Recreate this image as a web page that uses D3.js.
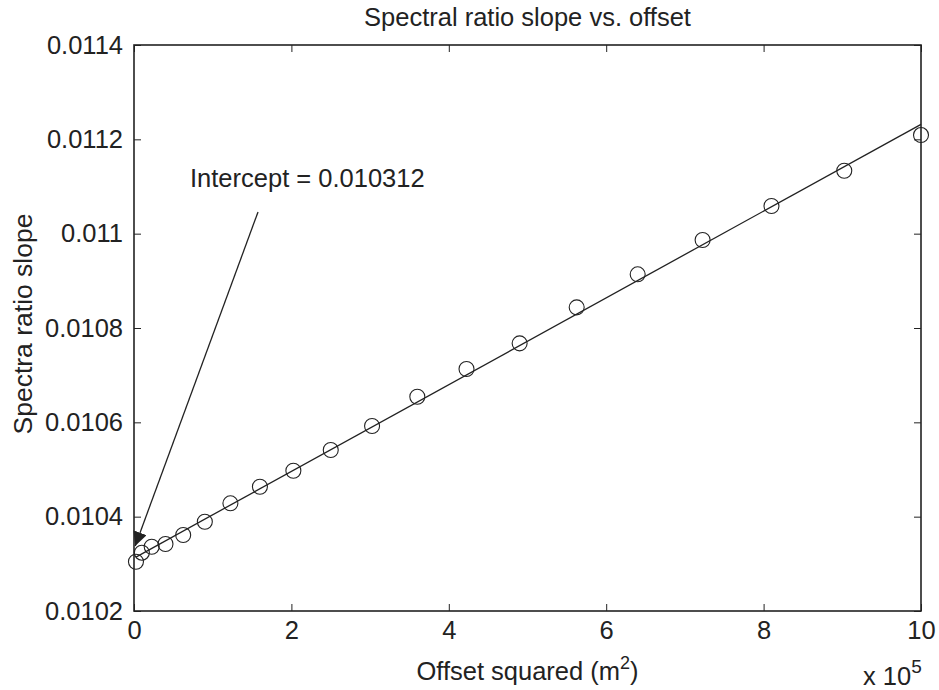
<!DOCTYPE html>
<html>
<head>
<meta charset="utf-8">
<script src="https://cdn.jsdelivr.net/npm/d3@7"></script>
<style>
  body { margin: 0; background: #fff; }
  text { font-family: "Liberation Sans", Arial, sans-serif; fill: #222; }
</style>
</head>
<body>
<svg id="chart" width="939" height="690"></svg>
<script>
// offset squared (m^2) and measured spectral ratio slope
const offsetSq = [2500, 10000, 22500, 40000, 62500, 90000, 122500, 160000, 202500, 250000,
  302500, 360000, 422500, 490000, 562500, 640000, 722500, 810000, 902500, 1000000];
const slopes = [0.0103045, 0.0103236, 0.0103363, 0.0103420, 0.0103611, 0.0103893, 0.0104283,
  0.0104635, 0.0104974, 0.0105413, 0.0105922, 0.0106543, 0.0107130, 0.0107675, 0.0108438,
  0.0109138, 0.0109865, 0.0110586, 0.0111334, 0.0112091];

// least squares line shown on the plot
const intercept = 0.010312;
const fitSlope = 9.198e-10;

const xTicks = [0, 200000, 400000, 600000, 800000, 1000000];
const yTicks = [0.0102, 0.0104, 0.0106, 0.0108, 0.011, 0.0112, 0.0114];

// arrow from label down to the intercept, data coords
const arrowFrom = [157600, 0.011046];
const arrowTo = [1500, 0.010338];

const svg = d3.select('#chart');
const m = { left: 134, right: 921, top: 45, bottom: 611 };
const ink = '#222';
const fs = '25.5px';

const x = d3.scaleLinear().domain([0, 1000000]).range([m.left, m.right]);
const y = d3.scaleLinear().domain([0.0102, 0.0114]).range([m.bottom, m.top]);

const tickLen = 7;

const styleAxis = (g) => {
  g.select('.domain').remove();
  g.selectAll('.tick line').attr('stroke', ink).attr('stroke-width', 1);
  g.selectAll('.tick text').style('font-size', fs).attr('fill', ink);
};

svg.append('g')
  .attr('transform', `translate(0,${m.bottom})`)
  .call(d3.axisBottom(x).tickValues(xTicks).tickSize(-tickLen).tickPadding(10)
    .tickFormat(d => d / 100000))
  .call(styleAxis);

svg.append('g')
  .attr('transform', `translate(0,${m.top})`)
  .call(d3.axisTop(x).tickValues(xTicks).tickSize(-tickLen).tickFormat(''))
  .call(styleAxis);

svg.append('g')
  .attr('transform', `translate(${m.left},0)`)
  .call(d3.axisLeft(y).tickValues(yTicks).tickSize(-tickLen).tickPadding(11)
    .tickFormat(d => String(d)))
  .call(styleAxis);

svg.append('g')
  .attr('transform', `translate(${m.right},0)`)
  .call(d3.axisRight(y).tickValues(yTicks).tickSize(-tickLen).tickFormat(''))
  .call(styleAxis);

// axes box
svg.append('rect')
  .attr('x', m.left).attr('y', m.top)
  .attr('width', m.right - m.left).attr('height', m.bottom - m.top)
  .attr('fill', 'none').attr('stroke', ink).attr('stroke-width', 1.6);

// fit line
const line = d3.line().x(d => x(d)).y(d => y(intercept + fitSlope * d));
svg.append('path')
  .datum([offsetSq[0], offsetSq[offsetSq.length - 1]])
  .attr('d', line)
  .attr('fill', 'none').attr('stroke', ink).attr('stroke-width', 1.3);

// data circles
svg.append('g').selectAll('circle')
  .data(offsetSq)
  .join('circle')
  .attr('cx', d => x(d))
  .attr('cy', (d, i) => y(slopes[i]))
  .attr('r', 7.5)
  .attr('fill', 'none').attr('stroke', ink).attr('stroke-width', 1.1);

// arrow
svg.append('defs').append('marker')
  .attr('id', 'head')
  .attr('viewBox', '0 0 10 10')
  .attr('refX', 10).attr('refY', 5)
  .attr('markerWidth', 14).attr('markerHeight', 14)
  .attr('markerUnits', 'userSpaceOnUse')
  .attr('orient', 'auto')
  .append('path').attr('d', 'M0,0L10,5L0,10Z').attr('fill', ink);

svg.append('line')
  .attr('x1', x(arrowFrom[0])).attr('y1', y(arrowFrom[1]))
  .attr('x2', x(arrowTo[0])).attr('y2', y(arrowTo[1]))
  .attr('stroke', ink).attr('stroke-width', 1.3)
  .attr('marker-end', 'url(#head)');

svg.append('text')
  .attr('x', 190).attr('y', 187)
  .style('font-size', fs)
  .text('Intercept = ' + intercept);

// title
svg.append('text')
  .attr('x', (m.left + m.right) / 2).attr('y', 26)
  .attr('text-anchor', 'middle')
  .style('font-size', fs)
  .text('Spectral ratio slope vs. offset');

// x label
const xl = svg.append('text')
  .attr('x', (m.left + m.right) / 2).attr('y', 680)
  .attr('text-anchor', 'middle')
  .style('font-size', fs);
xl.append('tspan').text('Offset squared (m');
xl.append('tspan').attr('dy', -11).style('font-size', '18px').text('2');
xl.append('tspan').attr('dy', 11).text(')');

// exponent note
const xe = svg.append('text')
  .attr('x', 863).attr('y', 685)
  .style('font-size', fs);
xe.append('tspan').text('x 10');
xe.append('tspan').attr('dy', -12).style('font-size', '19px').text('5');

// y label
svg.append('text')
  .attr('transform', 'translate(32,324) rotate(-90)')
  .attr('text-anchor', 'middle')
  .style('font-size', '26.5px')
  .text('Spectra ratio slope');
</script>
</body>
</html>
